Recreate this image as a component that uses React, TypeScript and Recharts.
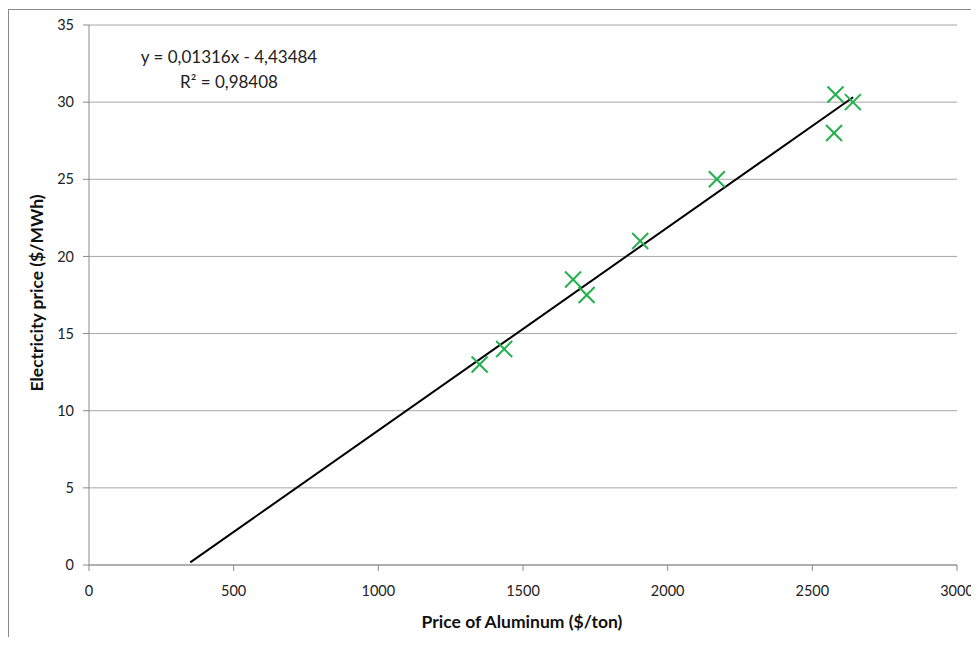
import { CartesianGrid, Scatter, ScatterChart, XAxis, YAxis } from "recharts";

const aluminumPrice = [1350, 1435, 1673, 1720, 1905, 2170, 2580, 2575, 2640];
const electricityPrice = [13, 14, 18.5, 17.5, 21, 25, 30.5, 28, 30];

const trendX = [350, 2641];
const trendY = [0.17, 30.32];

const xTicks = [0, 500, 1000, 1500, 2000, 2500, 3000];
const yTicks = [0, 5, 10, 15, 20, 25, 30, 35];

const equationText = "y = 0,01316x - 4,43484";
const r2Text = "R² = 0,98408";

const GREEN = "#22b14c";
const AXIS = "#8a8a8a";
const FONT = "Lato, 'Open Sans', sans-serif";

const points = aluminumPrice.map((x, i) => ({ x, y: electricityPrice[i] }));
const trend = trendX.map((x, i) => ({ x, y: trendY[i] }));

const CrossMark = (props: any) => {
  const { cx, cy } = props;
  const s = 8;
  return (
    <g stroke={GREEN} strokeWidth={2}>
      <line x1={cx - s} y1={cy - s} x2={cx + s} y2={cy + s} />
      <line x1={cx - s} y1={cy + s} x2={cx + s} y2={cy - s} />
    </g>
  );
};

const NoMark = () => <g />;

export default function App() {
  return (
    <div style={{ position: "relative", width: 971, height: 629 }}>
      <div
        style={{
          position: "absolute",
          left: 0,
          top: 1,
          right: 0,
          bottom: -20,
          borderLeft: "1px solid #8a8a8a",
          borderTop: "1px solid #8a8a8a",
          pointerEvents: "none",
        }}
      />
      <ScatterChart
        width={971}
        height={629}
        margin={{ top: 17, right: 22, left: 0, bottom: 42 }}
        style={{ fontFamily: FONT }}
      >
        <CartesianGrid vertical={false} stroke="#a6a6a6" />
        <XAxis
          type="number"
          dataKey="x"
          domain={[0, 3000]}
          ticks={xTicks}
          height={30}
          tickSize={6}
          tickMargin={15}
          stroke={AXIS}
          tick={{ fill: "#222", fontSize: 14.5, fontFamily: FONT }}
          allowDataOverflow
        />
        <YAxis
          type="number"
          dataKey="y"
          domain={[0, 35]}
          ticks={yTicks}
          width={81}
          tickSize={6}
          tickMargin={9}
          stroke={AXIS}
          tick={{ fill: "#222", fontSize: 14.5, fontFamily: FONT }}
          allowDataOverflow
        />
        <Scatter
          data={trend}
          line={{ stroke: "#000", strokeWidth: 2 }}
          shape={NoMark}
          isAnimationActive={false}
        />
        <Scatter
          data={points}
          shape={CrossMark}
          isAnimationActive={false}
        />
        <text
          x={221}
          y={55}
          textAnchor="middle"
          fontSize={17}
          fontFamily={FONT}
          fill="#222"
        >
          {equationText}
        </text>
        <text
          x={221}
          y={80}
          textAnchor="middle"
          fontSize={17}
          fontFamily={FONT}
          fill="#222"
        >
          {r2Text}
        </text>
        <text
          x={514}
          y={620}
          textAnchor="middle"
          fontSize={17.5}
          fontWeight="bold"
          fontFamily={FONT}
          fill="#111"
        >
          Price of Aluminum ($/ton)
        </text>
        <text
          x={35}
          y={285}
          textAnchor="middle"
          fontSize={17.5}
          fontWeight="bold"
          fontFamily={FONT}
          fill="#111"
          transform="rotate(-90 35 285)"
        >
          Electricity price ($/MWh)
        </text>
      </ScatterChart>
    </div>
  );
}
